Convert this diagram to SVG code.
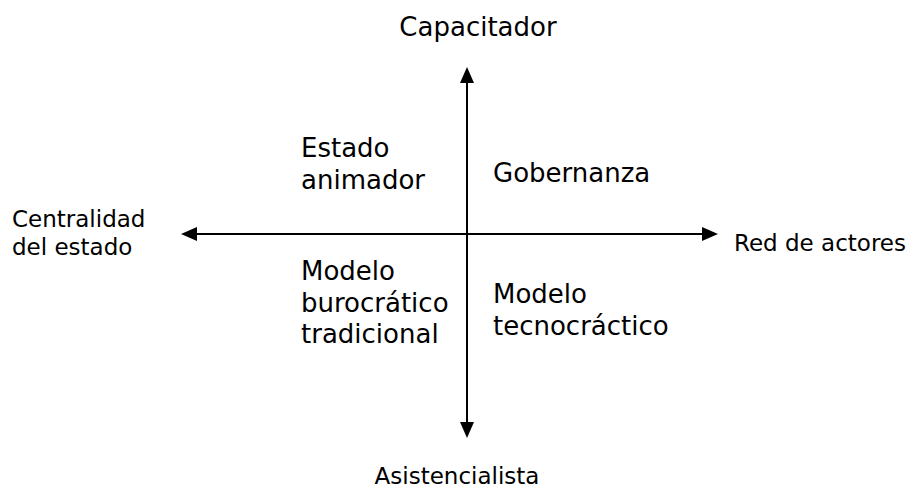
<svg xmlns="http://www.w3.org/2000/svg" width="913" height="490" viewBox="0 0 913 490">
  <style>
    text { font-family: "DejaVu Sans", Verdana, sans-serif; fill: #000; }
    .axis-label { font-size: 23px; }
    .quad { font-size: 26px; }
    .axis { stroke: #000; stroke-width: 2; fill: none; }
  </style>
  <defs>
    <marker id="arrow" viewBox="0 0 16 14" refX="0" refY="7" markerWidth="16" markerHeight="14" markerUnits="userSpaceOnUse" orient="auto-start-reverse">
      <path d="M0,0 L16,7 L0,14 z" fill="#000"/>
    </marker>
  </defs>
  <rect width="913" height="490" fill="#fff"/>
  <g id="connectors">
    <line class="axis" x1="467" y1="83" x2="467" y2="422" marker-start="url(#arrow)" marker-end="url(#arrow)"/>
    <line class="axis" x1="197" y1="234" x2="702" y2="234" marker-start="url(#arrow)" marker-end="url(#arrow)"/>
  </g>
  <g id="capacitador">
    <text class="axis-label" x="478" y="36" text-anchor="middle" style="font-size:26px">Capacitador</text>
  </g>
  <g id="asistencialista">
    <text class="axis-label" x="457" y="484" text-anchor="middle">Asistencialista</text>
  </g>
  <g id="centralidad">
    <text class="axis-label" x="12" y="227">Centralidad</text>
    <text class="axis-label" x="12" y="255">del estado</text>
  </g>
  <g id="red-actores">
    <text class="axis-label" x="734" y="251">Red de actores</text>
  </g>
  <g id="estado-animador">
    <text class="quad" x="301" y="157">Estado</text>
    <text class="quad" x="301" y="189">animador</text>
  </g>
  <g id="gobernanza">
    <text class="quad" x="493" y="182">Gobernanza</text>
  </g>
  <g id="burocratico">
    <text class="quad" x="301" y="280">Modelo</text>
    <text class="quad" x="301" y="312">burocrático</text>
    <text class="quad" x="301" y="343">tradicional</text>
  </g>
  <g id="tecnocratico">
    <text class="quad" x="493" y="303">Modelo</text>
    <text class="quad" x="493" y="335">tecnocráctico</text>
  </g>
</svg>
